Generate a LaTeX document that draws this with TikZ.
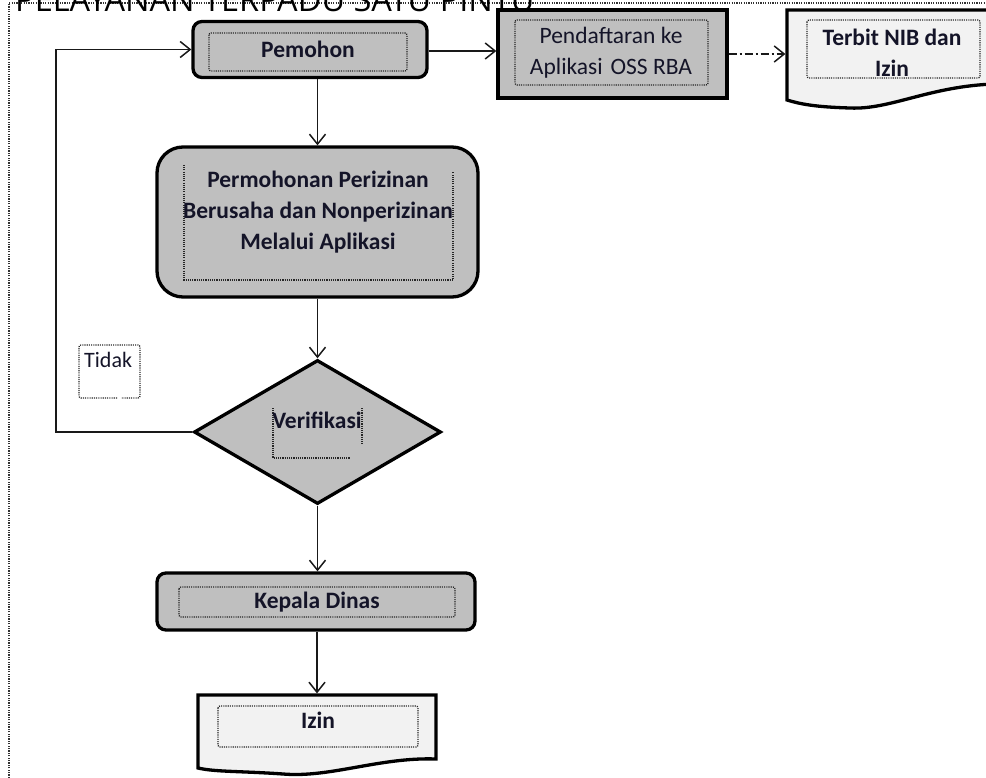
\documentclass[tikz,border=0pt]{standalone}
\usepackage{fontspec}
\setmainfont{Carlito}
\newfontfamily\titlefont{Open Sans}
\usetikzlibrary{arrows.meta,shapes.geometric}
\definecolor{boxgray}{HTML}{BFBFBF}
\definecolor{docfill}{HTML}{F2F2F2}
\definecolor{txt}{HTML}{141428}
\begin{document}
\begin{tikzpicture}[x=1pt,y=-1pt,
  box/.style={draw=black, line width=3.3pt, fill=boxgray, inner sep=0pt},
  docline/.style={draw=black, line width=3.3pt, fill=docfill},
  innerbox/.style={draw=black!85, line width=1.3pt, dash pattern=on 1.1pt off 1.1pt},
  frame/.style={draw=black!80, line width=1.3pt, dash pattern=on 1.2pt off 1.2pt},
  conn/.style={draw=black!90, line width=1.7pt, -{Straight Barb[length=10pt,width=16pt,line width=1.5pt]}},
  lbl/.style={font=\fontsize{23.5}{31}\selectfont\bfseries, text=txt, align=center, inner sep=0pt},
  lblr/.style={font=\fontsize{23.5}{31}\selectfont, text=txt, align=center, inner sep=0pt},
]
\useasboundingbox (0,0) rectangle (986,778);

% outer dotted frame and title
\draw[frame] (9,778) -- (9,3) -- (986,3);
\node[anchor=base west, inner sep=0pt, font=\titlefont\fontsize{32.5}{32.5}\selectfont] (title) at (15,12) {PELAYANAN TERPADU SATU PINTU};

% Pemohon
\node[box, rounded corners=9pt, minimum width=234pt, minimum height=56pt] (pem) at (310,49.5) {};
\draw[innerbox, rounded corners=2pt] (209,33) rectangle (407,71);
\node[lbl] (pemt) at (308,49) {Pemohon};

% Pendaftaran
\node[box, minimum width=229pt, minimum height=88pt] (pend) at (612.5,54) {};
\draw[innerbox, rounded corners=2pt] (515,20) rectangle (708,85);
\node[lblr] (pendt) at (611,53) {Pendaftaran ke\\Aplikasi\,\,OSS RBA};

% Terbit NIB dan Izin (document)
\node[minimum width=205pt, minimum height=90pt, inner sep=0pt, outer sep=1.6pt] (terb) at (889.5,55) {};
\draw[docline] (787,10) -- (995,10) -- (995,84)
  .. controls (930,86) and (890,110) .. (850,108)
  .. controls (815,107) and (800,104) .. (787,100) -- cycle;
\draw[innerbox, rounded corners=2pt] (807,20) rectangle (980,78);
\node[lbl] (terbt) at (892,53) {Terbit NIB dan\\Izin};

% Permohonan
\node[box, rounded corners=26pt, minimum width=321pt, minimum height=150pt] (perm) at (317.5,222) {};
\draw[innerbox] (184,165) -- (184,280) -- (453,280) -- (453,172);
\node[lbl] (permt) at (318,212) {Permohonan Perizinan\\Berusaha dan Nonperizinan\\Melalui Aplikasi};

% Verifikasi diamond
\node[box, diamond, minimum width=247pt, minimum height=144pt] (ver) at (317.5,432) {};
\draw[innerbox] (273,408) -- (273,458) -- (350,458);
\draw[innerbox] (362,408) -- (362,445);
\node[lbl, anchor=base] (vert) at (317,428) {Verifikasi};

% Tidak
\draw[innerbox, rounded corners=2pt] (117,398) -- (79,398) -- (79,345) -- (140,345) -- (140,398) -- (121,398);
\node[lblr, anchor=base west, font=\fontsize{22}{24}\selectfont] (tidak) at (84,367) {Tidak};

% Kepala Dinas
\node[box, rounded corners=9pt, minimum width=318pt, minimum height=57pt] (kep) at (316,601.5) {};
\draw[innerbox, rounded corners=2pt] (179,587) rectangle (455,617);
\node[lbl] (kept) at (317,602) {Kepala Dinas};

% Izin (document)
\node[minimum width=238pt, minimum height=70pt, inner sep=0pt, outer sep=1.6pt] (izin) at (317,730) {};
\draw[docline] (198,695) -- (436,695) -- (436,759)
  .. controls (380,757) and (330,778) .. (283,774)
  .. controls (240,771) and (215,772) .. (198,768) -- cycle;
\draw[innerbox, rounded corners=2pt] (218,706) rectangle (418,747);
\node[lbl] (izint) at (318,720) {Izin};

% connectors
\coordinate (loop) at (56,432);
\draw[conn] (ver.west) -- (loop) |- (pem.west);
\draw[conn] ([yshift=-1.5pt]pem.east) -- ([yshift=-1.5pt]pem.east -| pend.west);
\draw[conn, dash pattern=on 8pt off 3pt on 2pt off 3pt] (pend.east) -- (pend.east -| terb.west);
\draw[conn] (pem.south -| perm.north) -- (perm.north);
\draw[conn] (perm.south) -- (ver.north);
\draw[conn] (ver.south) -- (kep.north -| ver.south);
\draw[conn] (kep.south -| izin.north) -- (izin.north);
\end{tikzpicture}
\end{document}
